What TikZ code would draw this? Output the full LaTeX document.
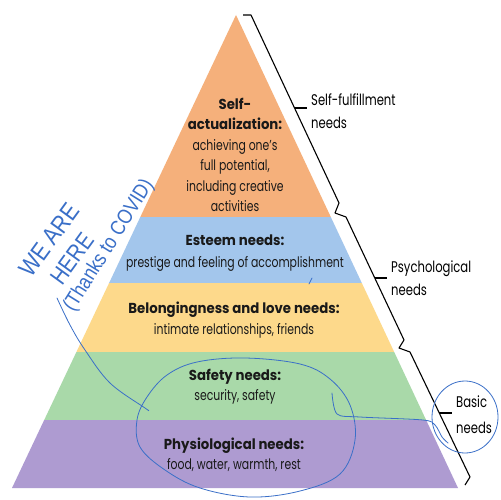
\documentclass[tikz,border=0pt]{standalone}
\usepackage{fontspec}
\setmainfont{Poppins}[FakeStretch=0.752, BoldFeatures={FakeStretch=0.92}]
\newfontfamily\handfont{Liberation Sans}[FakeStretch=0.85]
\definecolor{cOrange}{HTML}{F5B07B}
\definecolor{cBlue}{HTML}{A3C6EC}
\definecolor{cYellow}{HTML}{FDD98B}
\definecolor{cGreen}{HTML}{A9D9A9}
\definecolor{cPurple}{HTML}{AE9BD1}
\definecolor{ink}{HTML}{3A6FC8}
\tikzset{
  lvltext/.style={align=center, inner sep=0pt, font=\fontsize{14.5}{20.5}\selectfont, text=black!90},
  sidetext/.style={align=left, anchor=west, inner sep=0pt, font=\fontsize{15.5}{23}\selectfont},
  bracket/.style={draw=black, line width=1.1pt, line join=round},
  hand/.style={draw=ink, line width=0.8pt, line cap=round, line join=round},
  handtxt/.style={text=ink, inner sep=0pt}
}
\begin{document}
\begin{tikzpicture}[x=1bp,y=-1bp]
\useasboundingbox (0,0) rectangle (500,500);
\fill[white] (0,0) rectangle (500,500);
% pyramid bands
\fill[cOrange] (236,15) -- (330.8,217) -- (140.3,217) -- cycle;
\fill[cBlue] (140.3,217) -- (330.8,217) -- (361.8,283) -- (109.1,283) -- cycle;
\fill[cYellow] (109.1,283) -- (361.8,283) -- (394.2,352) -- (76.4,352) -- cycle;
\fill[cGreen] (76.4,352) -- (394.2,352) -- (426.1,420) -- (44.2,420) -- cycle;
\fill[cPurple] (44.2,420) -- (426.1,420) -- (458,488) -- (12,488) -- cycle;
% level texts
\node[lvltext] (self) at (235,155) {\textbf{Self-}\\\textbf{actualization:}\\achieving one’s\\full potential,\\including creative\\activities};
\node[lvltext, font=\fontsize{14.5}{22}\selectfont] (esteem) at (235,253) {\textbf{Esteem needs:}\\prestige and feeling of accomplishment};
\node[lvltext] (belong) at (234,320) {\textbf{Belongingness and love needs:}\\intimate relationships, friends};
\node[lvltext, font=\fontsize{14.5}{19.5}\selectfont] (safety) at (235,386.5) {\textbf{Safety needs:}\\security, safety};
\node[lvltext] (phys) at (234,455) {\textbf{Physiological needs:}\\food, water, warmth, rest};
% brackets
\coordinate (b0) at (243,15);
\coordinate (b1) at (251,15);
\coordinate (b2) at (339,203);
\coordinate (b3) at (335,213);
\coordinate (b4) at (346,217);
\coordinate (b5) at (404,340);
\coordinate (b6) at (399,348);
\coordinate (b7) at (410,352);
\coordinate (b8) at (470,477);
\coordinate (b9) at (465,485);
\draw[bracket] (b0) -- (b1) -- (b2) -- (b3) -- (b4) -- (b5) -- (b6) -- (b7) -- (b8) -- (b9);
\coordinate (t1a) at (295,108); \coordinate (t1b) at (307,108);
\coordinate (t2a) at (375,278); \coordinate (t2b) at (387,278);
\coordinate (t3a) at (439,413); \coordinate (t3b) at (452,413);
\draw[bracket] (t1a) -- (t1b);
\draw[bracket] (t2a) -- (t2b);
\draw[bracket] (t3a) -- (t3b);
\node[sidetext] (selff) at (311,111.5) {Self-fulfillment\\needs};
\node[sidetext] (psych) at (391,278) {Psychological\\needs};
\node[sidetext, font=\fontsize{15.5}{26}\selectfont] (basic) at (456,415) {Basic\\needs};
% handwriting
\node[handtxt, rotate=54, font=\handfont\fontsize{25}{25}\selectfont] (we) at (49,240) {WE ARE};
\node[handtxt, rotate=54, font=\handfont\fontsize{24}{24}\selectfont] (here) at (72,259) {HERE};
\node[handtxt, rotate=58, font=\handfont\fontsize{21}{21}\selectfont] (thanks) at (109,246) {(Thanks to COVID)};
\draw[hand] plot[smooth, tension=0.6] coordinates {(57,298) (70,325) (85,350) (110,383) (145,408) (148,410)};
\draw[hand] plot[smooth cycle, tension=0.6] coordinates {(147,397) (167,375) (197,362) (245,358) (300,364) (330,379) (350,405) (355,440) (340,474) (300,491) (250,497) (200,488) (165,470) (140,447) (137,420)};
\draw[hand] plot[smooth, tension=0.5] coordinates {(332,393) (337,414) (360,417) (423,420) (435,425) (442,437) (448,443)};
\draw[hand] (465,417) ellipse[x radius=33, y radius=36];
\draw[hand] (312,278) -- (309,284);
\end{tikzpicture}
\end{document}
